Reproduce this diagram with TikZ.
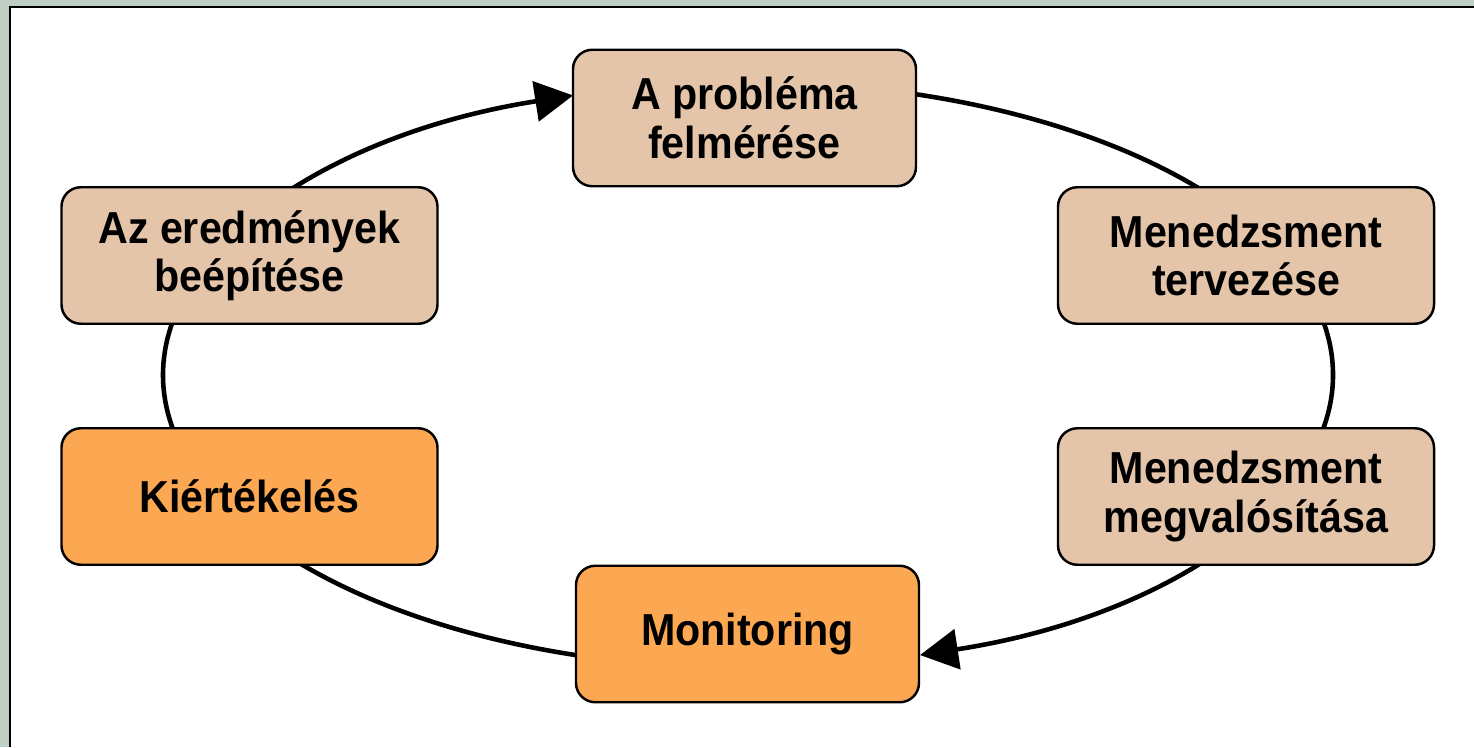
\documentclass[tikz,border=0pt]{standalone}
\usepackage{fontspec}
\setmainfont{Liberation Sans}[FakeStretch=0.92]
\usepackage{tikz}
\usetikzlibrary{arrows.meta,calc}
\definecolor{vertCadre}{RGB}{192,207,196}
\definecolor{beigeEtape}{RGB}{228,197,169}
\definecolor{orangeEtape}{RGB}{252,168,82}

\begin{document}
\begin{tikzpicture}[
  etape/.style={rectangle,rounded corners=11pt,minimum width=6.86cm,minimum height=2.73cm,
                align=center,draw=black,line width=1.4pt,
                font=\bfseries\fontsize{25.5}{27.6}\selectfont},
  large/.style={etape,minimum width=7.52cm},
  cycle/.style={line width=2.6pt,-{Triangle[length=7.6mm,width=8mm]}}]

  \useasboundingbox (0,0) rectangle (29.48,14.94);
  \fill[vertCadre] (0,0) rectangle (29.48,14.94);
  \fill[white] (0.2,0) rectangle (29.48,14.80);
  \draw[line width=1.6pt] (0.2,0) -- (0.2,14.80) -- (29.48,14.80);

  \coordinate (ring) at (14.96,7.44);
  \draw[cycle] ($(ring)+(270:11.7cm and 5.86cm)$)
    arc[start angle=270,end angle=107.4,x radius=11.7cm,y radius=5.86cm];
  \draw[cycle] ($(ring)+(90:11.7cm and 5.86cm)$)
    arc[start angle=90,end angle=-72.9,x radius=11.7cm,y radius=5.86cm];

  \node[etape,fill=beigeEtape]  (prob)  at (14.89,12.58) {A probléma\\felmérése};
  \node[large,fill=beigeEtape]  (terv)  at (24.92,9.83)  {Menedzsment\\tervezése};
  \node[large,fill=beigeEtape]  (megv)  at (24.92,5.01)  {Menedzsment\\megvalósítása};
  \node[etape,fill=orangeEtape] (moni)  at (14.95,2.26)  {Monitoring};
  \node[large,fill=orangeEtape] (kiert) at (4.99,5.01)   {Kiértékelés};
  \node[large,fill=beigeEtape]  (beep)  at (4.99,9.83)   {Az eredmények\\beépítése};
\end{tikzpicture}
\end{document}
